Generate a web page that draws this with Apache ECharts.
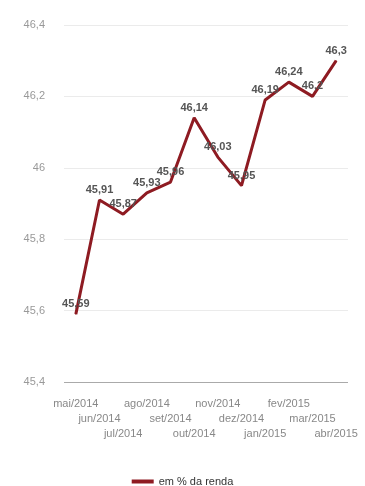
<!DOCTYPE html>
<html><head><meta charset="utf-8">
<script src="https://cdn.jsdelivr.net/npm/echarts@6/dist/echarts.min.js"></script>
<style>html,body{margin:0;padding:0;background:#fff}#c{width:365px;height:486px}</style>
</head><body><div id="c"></div>
<script>
var categories = ['mai/2014','jun/2014','jul/2014','ago/2014','set/2014','out/2014','nov/2014','dez/2014','jan/2015','fev/2015','mar/2015','abr/2015'];
var values = [45.59, 45.91, 45.87, 45.93, 45.96, 46.14, 46.03, 45.95, 46.19, 46.24, 46.2, 46.3];
var seriesName = 'em % da renda';
var yTicks = [45.4, 46.4, 0.2];

function fmt(v){ return String(+v.toFixed(2)).replace('.', ','); }

var chart = echarts.init(document.getElementById('c'));
chart.setOption({
  animation: false,
  textStyle: {fontFamily: 'Arial, "Liberation Sans", sans-serif'},
  grid: {left: 64, right: 17, top: 25, bottom: 104},
  legend: {
    top: 471, left: 'center',
    icon: 'rect', itemWidth: 22, itemHeight: 4,
    textStyle: {fontSize: 11, color: '#333'},
    data: [seriesName]
  },
  xAxis: {
    type: 'category', data: categories, boundaryGap: true,
    axisLine: {show: false}, axisTick: {show: false},
    axisLabel: {
      interval: 0, margin: 14, fontSize: 11, color: '#888', lineHeight: 15,
      formatter: function(v, i){ var p=''; for (var k=0;k<i%3;k++) p+='\n'; return p+v; }
    }
  },
  yAxis: {
    type: 'value', min: yTicks[0], max: yTicks[1], interval: yTicks[2],
    axisLine: {show: false}, axisTick: {show: false},
    axisLabel: {margin: 19, fontSize: 11, color: '#999', formatter: function(v){ return fmt(v); }},
    splitLine: {lineStyle: {color: '#ebebeb', width: 1}}
  },
  series: [{
    name: seriesName, type: 'line', data: values,
    symbol: 'circle', symbolSize: 1, showSymbol: true,
    lineStyle: {color: '#8e1b22', width: 3},
    itemStyle: {color: '#8e1b22'},
    label: {
      show: true, position: 'top', distance: 4,
      fontSize: 11, fontWeight: 'bold', color: '#555',
      formatter: function(p){ return fmt(p.value); }
    },
    markLine: {
      silent: true, symbol: 'none', label: {show: false},
      lineStyle: {color: '#aaa', type: 'solid', width: 1},
      data: [{yAxis: yTicks[0]}]
    }
  }]
});
</script></body></html>
